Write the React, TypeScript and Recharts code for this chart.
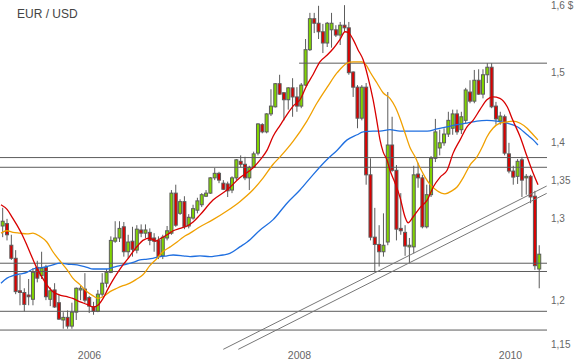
import React from 'react';
import { ComposedChart, Bar, Line, XAxis, YAxis, ReferenceLine } from 'recharts';

// ---- candle data (half-monthly candles, index 0..124) ----
const openP = [
  1.291, 1.294, 1.267, 1.251, 1.212, 1.210, 1.207, 1.202, 1.240, 1.230,
  1.240, 1.202, 1.213, 1.198, 1.178, 1.181, 1.171, 1.187, 1.213, 1.214,
  1.204, 1.193, 1.188, 1.208, 1.221, 1.234, 1.272, 1.276, 1.290, 1.259,
  1.272, 1.261, 1.286, 1.282, 1.283, 1.276, 1.273, 1.254, 1.276, 1.282,
  1.333, 1.307, 1.322, 1.291, 1.301, 1.311, 1.318, 1.329, 1.333, 1.353,
  1.359, 1.346, 1.345, 1.337, 1.353, 1.375, 1.371, 1.353, 1.367, 1.386,
  1.425, 1.415, 1.440, 1.450, 1.483, 1.470, 1.460, 1.477, 1.464, 1.451,
  1.481, 1.533, 1.580, 1.573, 1.560, 1.543, 1.563, 1.563, 1.555, 1.570,
  1.566, 1.500, 1.478, 1.434, 1.478, 1.357, 1.277, 1.268, 1.259, 1.271,
  1.397, 1.363, 1.288, 1.283, 1.265, 1.265, 1.358, 1.353, 1.290, 1.331,
  1.379, 1.393, 1.400, 1.412, 1.420, 1.440, 1.418, 1.431, 1.471, 1.458,
  1.488, 1.468, 1.496, 1.507, 1.451, 1.430, 1.436, 1.385, 1.362, 1.355,
  1.377, 1.353, 1.355, 1.329, 1.238,
];
const highP = [
  1.314, 1.300, 1.280, 1.261, 1.231, 1.215, 1.226, 1.239, 1.248, 1.259,
  1.243, 1.216, 1.221, 1.207, 1.187, 1.189, 1.198, 1.216, 1.218, 1.233,
  1.206, 1.199, 1.213, 1.233, 1.238, 1.278, 1.297, 1.297, 1.296, 1.280,
  1.290, 1.292, 1.293, 1.293, 1.288, 1.282, 1.278, 1.280, 1.291, 1.337,
  1.344, 1.325, 1.329, 1.306, 1.318, 1.327, 1.333, 1.337, 1.354, 1.366,
  1.361, 1.350, 1.348, 1.355, 1.378, 1.383, 1.381, 1.369, 1.388, 1.427,
  1.427, 1.441, 1.475, 1.484, 1.496, 1.471, 1.478, 1.491, 1.478, 1.484,
  1.549, 1.589, 1.589, 1.600, 1.572, 1.575, 1.589, 1.570, 1.575, 1.601,
  1.575, 1.501, 1.481, 1.481, 1.484, 1.379, 1.314, 1.292, 1.307, 1.471,
  1.436, 1.370, 1.333, 1.292, 1.276, 1.369, 1.373, 1.357, 1.344, 1.382,
  1.433, 1.418, 1.420, 1.443, 1.446, 1.446, 1.443, 1.477, 1.488, 1.503,
  1.504, 1.504, 1.513, 1.513, 1.457, 1.443, 1.439, 1.400, 1.369, 1.378,
  1.381, 1.358, 1.357, 1.336, 1.267,
];
const lowP = [
  1.277, 1.273, 1.249, 1.208, 1.195, 1.188, 1.195, 1.195, 1.222, 1.226,
  1.201, 1.194, 1.192, 1.178, 1.168, 1.168, 1.168, 1.178, 1.201, 1.198,
  1.186, 1.184, 1.187, 1.205, 1.216, 1.233, 1.270, 1.271, 1.253, 1.251,
  1.253, 1.257, 1.277, 1.276, 1.267, 1.259, 1.250, 1.250, 1.273, 1.280,
  1.290, 1.305, 1.287, 1.288, 1.299, 1.307, 1.315, 1.328, 1.332, 1.350,
  1.346, 1.337, 1.328, 1.333, 1.350, 1.367, 1.350, 1.337, 1.366, 1.383,
  1.413, 1.413, 1.437, 1.449, 1.467, 1.431, 1.446, 1.436, 1.443, 1.448,
  1.480, 1.531, 1.558, 1.549, 1.528, 1.537, 1.536, 1.552, 1.540, 1.560,
  1.496, 1.464, 1.420, 1.431, 1.344, 1.273, 1.234, 1.241, 1.253, 1.267,
  1.361, 1.273, 1.280, 1.254, 1.245, 1.257, 1.340, 1.288, 1.288, 1.328,
  1.374, 1.383, 1.396, 1.408, 1.411, 1.411, 1.412, 1.427, 1.455, 1.455,
  1.467, 1.462, 1.484, 1.448, 1.425, 1.425, 1.383, 1.359, 1.344, 1.345,
  1.328, 1.331, 1.320, 1.237, 1.215,
];
const closeP = [
  1.297, 1.280, 1.251, 1.211, 1.210, 1.196, 1.205, 1.234, 1.227, 1.239,
  1.205, 1.212, 1.193, 1.179, 1.181, 1.171, 1.187, 1.215, 1.215, 1.201,
  1.194, 1.188, 1.208, 1.221, 1.234, 1.273, 1.276, 1.288, 1.259, 1.271,
  1.262, 1.287, 1.282, 1.286, 1.273, 1.272, 1.253, 1.277, 1.285, 1.333,
  1.292, 1.322, 1.290, 1.302, 1.313, 1.323, 1.331, 1.333, 1.353, 1.359,
  1.350, 1.338, 1.336, 1.353, 1.377, 1.371, 1.353, 1.367, 1.385, 1.426,
  1.415, 1.440, 1.451, 1.483, 1.468, 1.460, 1.477, 1.464, 1.451, 1.481,
  1.533, 1.580, 1.573, 1.560, 1.543, 1.573, 1.573, 1.555, 1.570, 1.566,
  1.499, 1.478, 1.434, 1.478, 1.357, 1.277, 1.268, 1.259, 1.267, 1.397,
  1.363, 1.287, 1.285, 1.266, 1.267, 1.357, 1.353, 1.290, 1.331, 1.379,
  1.415, 1.400, 1.412, 1.431, 1.440, 1.415, 1.436, 1.474, 1.458, 1.488,
  1.468, 1.496, 1.507, 1.450, 1.433, 1.437, 1.386, 1.362, 1.354, 1.375,
  1.350, 1.355, 1.328, 1.242, 1.256,
];

// ---- moving averages (position in candle units, value) ----
const redIdx = [
  -0.4, 1.0, 2.2, 3.3, 4.5, 5.6, 6.8, 7.9, 9.1, 10.2, 11.6, 13.2, 14.9, 16.2, 17.9,
  19.5, 20.9, 22.0, 23.2, 24.3, 25.5, 26.6, 27.8, 29.0, 30.1, 31.3, 32.4, 34.0, 35.2,
  36.4, 38.0, 39.4, 41.0, 42.6, 44.0, 45.6, 48.6, 51.8, 54.8, 57.8, 59.5, 61.1, 62.5,
  64.1, 65.7, 67.1, 68.7, 70.3, 71.7, 73.3, 75.0, 76.3, 78.0, 79.1, 80.0, 81.0, 82.1,
  83.3, 84.4, 85.6, 86.5, 87.2, 87.9, 88.8, 89.5, 90.7, 91.8, 93.0, 93.7, 94.8, 96.4,
  98.1, 99.5, 101.1, 102.7, 104.1, 105.7, 107.3, 108.7, 110.3, 111.9, 113.3, 114.9,
  116.6, 117.9, 119.6, 121.2, 122.6, 123.7,
];
const redVal = [
  1.318, 1.312, 1.302, 1.292, 1.280, 1.267, 1.252, 1.239, 1.228, 1.219, 1.211, 1.207, 1.205, 1.203, 1.199,
  1.196, 1.193, 1.195, 1.203, 1.214, 1.225, 1.234, 1.243, 1.251, 1.259, 1.267, 1.273, 1.276, 1.272,
  1.275, 1.280, 1.285, 1.288, 1.291, 1.296, 1.305, 1.324, 1.337, 1.353, 1.366, 1.377, 1.390, 1.409,
  1.424, 1.439, 1.451, 1.460, 1.481, 1.496, 1.515, 1.525, 1.534, 1.549, 1.560, 1.558, 1.548, 1.533,
  1.518, 1.493, 1.460, 1.429, 1.404, 1.388, 1.377, 1.363, 1.346, 1.328, 1.302, 1.295, 1.302, 1.314,
  1.324, 1.341, 1.354, 1.363, 1.386, 1.404, 1.422, 1.431, 1.446, 1.460, 1.464, 1.462,
  1.450, 1.431, 1.408, 1.381, 1.359, 1.344,
];
const orangeIdx = [
  -0.4, 1.0, 2.4, 4.0, 5.6, 7.0, 8.6, 10.2, 11.6, 13.2, 14.9, 16.2, 17.9, 19.5, 20.9,
  22.0, 23.2, 24.8, 26.4, 27.8, 29.4, 31.0, 32.4, 34.0, 35.7, 37.0, 38.7, 40.3, 41.7,
  43.3, 45.6, 48.6, 51.8, 54.8, 57.8, 60.2, 62.5, 64.1, 67.1, 70.3, 72.6, 75.0, 77.3,
  79.6, 81.0, 83.0, 84.0, 84.9, 86.5, 87.9, 89.5, 90.7, 91.8, 93.0, 94.1, 95.3, 96.4,
  97.6, 98.8, 100.4, 102.2, 103.8, 105.0, 106.4, 108.0, 109.6, 110.8, 111.9, 113.3,
  114.9, 116.6, 117.9, 119.6, 121.2, 122.6, 123.7,
];
const orangeVal = [
  1.282, 1.285, 1.283, 1.282, 1.281, 1.282, 1.278, 1.271, 1.259, 1.248, 1.237, 1.227, 1.219, 1.211, 1.206,
  1.203, 1.205, 1.211, 1.215, 1.218, 1.221, 1.226, 1.231, 1.242, 1.251, 1.259, 1.265, 1.271, 1.277,
  1.282, 1.290, 1.299, 1.310, 1.322, 1.337, 1.353, 1.371, 1.381, 1.402, 1.430, 1.455, 1.478, 1.499,
  1.513, 1.515, 1.515, 1.510, 1.500, 1.484, 1.470, 1.462, 1.450, 1.434, 1.413, 1.394, 1.381, 1.367,
  1.354, 1.344, 1.336, 1.332, 1.336, 1.341, 1.353, 1.370, 1.381, 1.394, 1.408, 1.420,
  1.427, 1.429, 1.430, 1.427, 1.420, 1.411, 1.404,
];
const blueIdx = [
  -0.4, 1.0, 2.4, 4.0, 5.6, 7.0, 9.3, 11.6, 13.2, 14.9, 17.2, 19.5, 20.9, 22.5, 24.1,
  25.5, 27.1, 28.7, 30.1, 31.7, 33.4, 34.7, 36.4, 38.0, 39.4, 41.7, 43.3, 45.6, 47.9,
  49.5, 50.9, 52.5, 54.8, 56.5, 59.5, 62.5, 65.7, 68.7, 71.7, 74.9, 77.3, 79.6, 81.9,
  83.3, 85.6, 87.2, 89.5, 91.8, 94.8, 98.1, 100.4, 102.7, 105.0, 107.3, 109.6, 111.9,
  114.2, 116.6, 118.9, 121.2, 122.6, 123.7,
];
const blueVal = [
  1.221, 1.227, 1.230, 1.232, 1.234, 1.238, 1.240, 1.243, 1.245, 1.244, 1.243, 1.240, 1.238, 1.238, 1.238,
  1.240, 1.242, 1.244, 1.246, 1.249, 1.250, 1.251, 1.253, 1.254, 1.255, 1.254, 1.253, 1.254, 1.253,
  1.254, 1.255, 1.257, 1.265, 1.271, 1.286, 1.299, 1.320, 1.337, 1.357, 1.377, 1.390, 1.404, 1.411,
  1.415, 1.416, 1.416, 1.418, 1.416, 1.416, 1.416, 1.419, 1.422, 1.425, 1.427, 1.430, 1.431,
  1.430, 1.427, 1.422, 1.411, 1.404, 1.397,
];

// ---- axes ----
const yearTicks = [20.06, 68.59, 117.36];
const yearLabels = ['2006', '2008', '2010'];
const priceTicks = [1.15, 1.2, 1.3, 1.35, 1.4, 1.5, 1.6];
const priceLabels = ['1,15', '1,2', '1,3', '1,35', '1,4', '1,5', '1,6 $'];

// ---- support / resistance levels and channel ----
const fullLevels = [1.380, 1.367, 1.245, 1.235, 1.188, 1.1665];
const topLevel = 1.513;
const topLevelStart = 68.5;
const channelUpper = [{ x: 50.98, y: 1.1448 }, { x: 125.72, y: 1.3423 }];
const channelLower = [{ x: 54.45, y: 1.1448 }, { x: 125.72, y: 1.3327 }];

const X_DOMAIN: [number, number] = [-0.624, 125.79];
const Y_DOMAIN: [number, number] = [1.128543, 1.609044];

const candles = openP.map((o, i) => ({
  i,
  open: o,
  high: highP[i],
  low: lowP[i],
  close: closeP[i],
  range: [lowP[i], highP[i]],
}));
const toSeries = (xs: number[], vs: number[]) => xs.map((x, k) => ({ i: x, v: vs[k] }));
const redData = toSeries(redIdx, redVal);
const orangeData = toSeries(orangeIdx, orangeVal);
const blueData = toSeries(blueIdx, blueVal);

const GREEN = '#80d400';
const RED = '#dc0000';
const GREY = '#5c5c5c';
const FONT = 'Arial, "Liberation Sans", sans-serif';

const Candle = (props: any) => {
  const { x, y, width, height } = props;
  const d = props.payload ?? props;
  if (x == null || y == null || height == null) return null;
  const top = Math.min(y, y + height);
  const h = Math.abs(height);
  const cx = x + width / 2;
  const lh = Math.log(d.high);
  const ll = Math.log(d.low);
  const span = lh - ll || 1;
  const py = (v: number) => top + (h * (lh - Math.log(v))) / span;
  const bTop = py(Math.max(d.open, d.close));
  const bBot = py(Math.min(d.open, d.close));
  const up = d.close >= d.open;
  return (
    <g>
      <line x1={cx} x2={cx} y1={top} y2={top + h} stroke={GREY} strokeWidth={1} />
      <rect
        x={cx - 1.5}
        y={bTop}
        width={3}
        height={Math.max(bBot - bTop, 1)}
        fill={up ? GREEN : RED}
        stroke={GREY}
        strokeWidth={1}
      />
    </g>
  );
};

// year labels sit inside the visible frame, just under the lowest level line
const XTick = (props: any) => {
  const { x, payload } = props;
  const k = yearTicks.indexOf(payload.value);
  return (
    <text x={x} y={355} dy="0.35em" textAnchor="middle" fontSize={10.5} fill="#666" fontFamily={FONT}>
      {yearLabels[k]}
    </text>
  );
};

const YTick = (props: any) => {
  const { x, y, payload } = props;
  const k = priceTicks.indexOf(payload.value);
  return (
    <text x={x} y={y} dy="0.35em" textAnchor="start" fontSize={10} fill="#666" fontFamily={FONT}>
      {priceLabels[k]}
    </text>
  );
};

export default function App() {
  return (
    <div style={{ position: 'absolute', left: 0, top: 0, width: 584, height: 364, background: '#fff', overflow: 'hidden' }}>
      <ComposedChart width={584} height={384} data={candles} margin={{ top: 0, right: 0, bottom: 0, left: 0 }}>
        <XAxis
          dataKey="i"
          type="number"
          domain={X_DOMAIN}
          allowDataOverflow
          ticks={yearTicks}
          interval={0}
          tick={(p: any) => <XTick {...p} />}
          axisLine={false}
          tickLine={false}
          height={20}
        />
        <YAxis
          orientation="right"
          type="number"
          scale="log"
          domain={Y_DOMAIN}
          allowDataOverflow
          ticks={priceTicks}
          interval={0}
          tick={(p: any) => <YTick {...p} />}
          axisLine={false}
          tickLine={false}
          tickSize={0}
          tickMargin={4}
          width={37}
        />
        {fullLevels.map((lv) => (
          <ReferenceLine key={lv} y={lv} stroke={GREY} strokeWidth={1} />
        ))}
        <ReferenceLine
          segment={[{ x: topLevelStart, y: topLevel }, { x: X_DOMAIN[1], y: topLevel }]}
          stroke={GREY}
          strokeWidth={1}
        />
        <ReferenceLine segment={channelUpper} stroke="#777" strokeWidth={1} />
        <ReferenceLine segment={channelLower} stroke="#777" strokeWidth={1} />
        <Bar dataKey="range" barSize={4} shape={(p: any) => <Candle {...p} />} isAnimationActive={false} />
        <Line data={blueData} dataKey="v" type="monotone" stroke="#1f6fe0" strokeWidth={1.3} dot={false} activeDot={false} isAnimationActive={false} />
        <Line data={orangeData} dataKey="v" type="monotone" stroke="#f0a000" strokeWidth={1.3} dot={false} activeDot={false} isAnimationActive={false} />
        <Line data={redData} dataKey="v" type="monotone" stroke="#d80000" strokeWidth={1.3} dot={false} activeDot={false} isAnimationActive={false} />
      </ComposedChart>
      <div
        style={{
          position: 'absolute',
          left: 17,
          top: 7,
          fontFamily: FONT,
          fontSize: 12,
          color: '#444',
          lineHeight: 'normal',
          whiteSpace: 'nowrap',
        }}
      >
        EUR / USD
      </div>
    </div>
  );
}
